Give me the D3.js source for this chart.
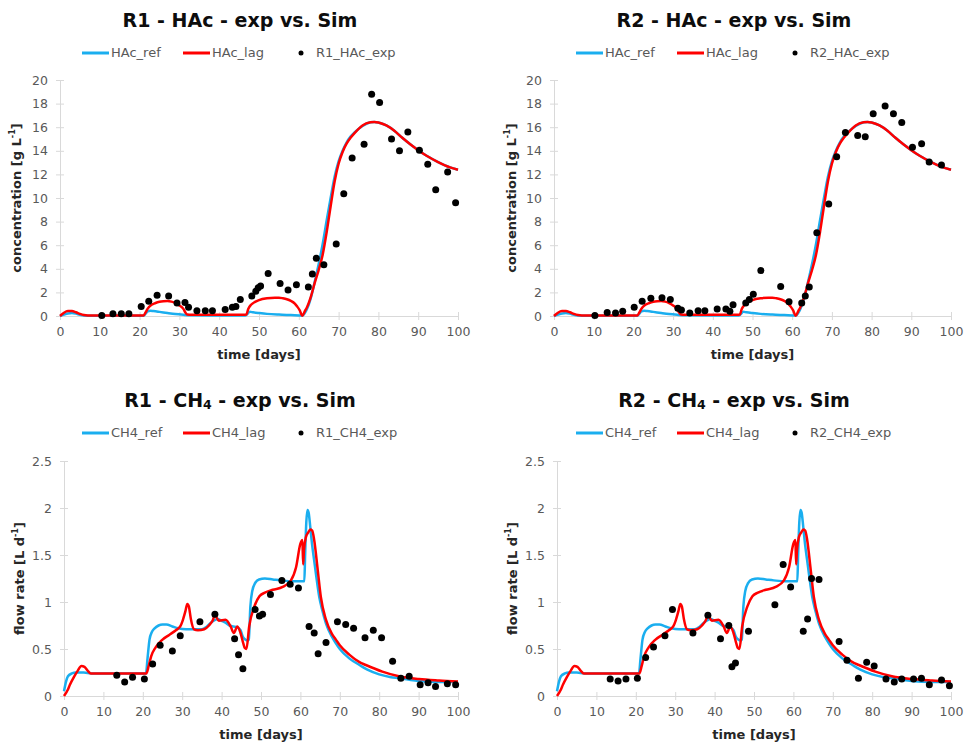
<!DOCTYPE html>
<html>
<head>
<meta charset="utf-8">
<script src="https://cdn.jsdelivr.net/npm/d3@7"></script>
<style>
  body { margin: 0; background: #ffffff; }
  svg { display: block; }
</style>
</head>
<body>
<svg id="chart" width="965" height="742"></svg>
<script>
// ---- simulated acetic acid (HAc) concentration, g/L  [day, value]
const hacRef = [[0,0],[1,0.12],[2,0.22],[3,0.25],[4,0.2],[5,0.1],[6,0.04],[8,0.02],[21,0.02],[21.5,0.2],[22,0.38],[22.7,0.45],[23.5,0.42],[25,0.35],[27,0.25],[29,0.16],[31,0.1],[33,0.06],[40,0.04],[46.5,0.04],[47,0.15],[47.7,0.35],[48.5,0.31],[50,0.25],[52,0.18],[55,0.12],[58,0.08],[60.9,0.04],[61.5,0.25],[62,0.55],[63,1.5],[64,2.9],[65,4.4],[66,6.1],[67,8.1],[68,10.0],[69,11.8],[70,13.1],[71,14.0],[72,14.7],[73,15.2],[74,15.55],[76,16.1],[78,16.42],[79,16.45],[80,16.4],[82,16.15],[84,15.7],[86,15.1],[88,14.55],[90,14.05],[92,13.6],[95,13.05],[98,12.6],[100,12.4]];
const hacLag = [[0,0],[1,0.28],[2,0.42],[3,0.42],[4,0.32],[5,0.18],[6,0.08],[7,0.05],[8,0.05],[21,0.05],[21.5,0.3],[22,0.6],[23,0.95],[24,1.1],[25,1.2],[26,1.25],[27,1.27],[28,1.22],[29,1.1],[30,0.9],[31,0.6],[31.5,0.3],[32,0.12],[33,0.1],[40,0.1],[46,0.1],[46.8,0.12],[47.3,0.6],[48,0.95],[49,1.2],[50,1.35],[52,1.5],[54,1.55],[55,1.55],[56,1.5],[57,1.42],[58,1.28],[59,1.05],[59.6,0.8],[60.2,0.5],[60.9,0.02],[61.5,0.4],[62,0.7],[63,1.6],[64,2.8],[65,3.9],[66,5.2],[67,7.1],[68,9.3],[69,11.4],[70,12.9],[71,13.9],[72,14.6],[73,15.1],[74,15.5],[76,16.15],[78,16.42],[79,16.45],[80,16.4],[82,16.15],[84,15.7],[86,15.1],[88,14.55],[90,14.05],[92,13.6],[95,13.05],[98,12.6],[100,12.4]];

// ---- measured HAc, reactors R1 and R2
const r1HacExp = [[10.5,0.05],[13.3,0.2],[15.4,0.2],[17.3,0.2],[20.4,0.8],[22.3,1.25],[24.4,1.75],[27.3,1.7],[29.4,1.1],[31.4,1.15],[32.3,0.75],[34.4,0.45],[36.5,0.45],[38.3,0.45],[41.5,0.55],[43.3,0.75],[44.2,0.8],[45.3,1.4],[48.2,1.7],[49.2,2.1],[49.8,2.4],[50.4,2.55],[52.3,3.6],[55.3,2.75],[57.3,2.2],[59.4,2.65],[62.4,2.45],[63.4,3.55],[64.4,4.9],[66.3,4.35],[69.4,6.1],[71.3,10.35],[73.4,13.4],[76.4,14.55],[78.3,18.8],[80.3,18.1],[83.3,15.0],[85.3,14.0],[87.4,15.6],[90.3,14.05],[92.4,12.85],[94.4,10.7],[97.4,12.2],[99.4,9.6]];
const r2HacExp = [[10.3,0.05],[13.4,0.3],[15.5,0.25],[17.3,0.4],[20.2,0.75],[22.2,1.25],[24.4,1.5],[27.2,1.55],[29.3,1.4],[31.2,0.65],[32.1,0.5],[34.2,0.25],[36.3,0.45],[38.0,0.45],[41.1,0.6],[43.3,0.6],[44.3,0.4],[45.1,0.95],[48.3,1.1],[49.2,1.4],[50.2,1.85],[52.1,3.85],[57.1,2.5],[59.2,1.2],[62.4,1.1],[63.3,1.7],[64.3,2.45],[66.2,7.05],[69.2,9.5],[71.2,13.5],[73.4,15.55],[76.5,15.3],[78.4,15.2],[80.4,17.15],[83.4,17.8],[85.5,17.15],[87.6,16.4],[90.3,14.3],[92.6,14.6],[94.5,13.05],[97.6,12.8]];

// ---- simulated methane flow rate, L/d
const ch4Ref = [[0,0.05],[0.5,0.15],[1,0.21],[2,0.24],[3,0.25],[5,0.25],[7,0.24],[10,0.24],[15,0.24],[20.8,0.24],[21.2,0.4],[21.7,0.6],[22.3,0.68],[23,0.72],[24,0.75],[25,0.76],[26,0.76],[27.5,0.74],[29,0.72],[31,0.71],[33,0.71],[35,0.71],[36,0.73],[37,0.77],[38,0.8],[39,0.82],[40,0.8],[41,0.78],[42,0.75],[43,0.74],[44,0.73],[44.8,0.7],[45.4,0.63],[46,0.6],[46.6,0.59],[46.9,0.6],[47.3,0.95],[47.8,1.12],[48.5,1.2],[49.5,1.24],[51,1.25],[53,1.24],[55,1.23],[58,1.22],[60,1.22],[61,1.22],[61.2,1.5],[61.5,1.85],[61.8,1.98],[62.1,1.95],[62.5,1.8],[63,1.6],[63.5,1.44],[64,1.28],[64.8,1.05],[65.5,0.92],[66.5,0.77],[68,0.63],[69,0.56],[70,0.5],[72.4,0.4],[75,0.33],[77,0.28],[80,0.23],[83,0.2],[85,0.19],[88,0.17],[90,0.16],[95,0.15],[100,0.15]];
const ch4Lag = [[0,0],[1,0.07],[1.5,0.12],[2.5,0.2],[3.5,0.27],[4.4,0.32],[5.2,0.31],[6,0.27],[6.8,0.24],[7.5,0.24],[10,0.24],[15,0.24],[20.9,0.24],[21.5,0.32],[22.1,0.42],[23.3,0.52],[25,0.6],[26.7,0.65],[28.4,0.7],[29.5,0.74],[30.1,0.8],[30.8,0.9],[31.3,0.98],[31.7,0.95],[32.2,0.82],[33,0.71],[34,0.7],[35.6,0.71],[36.8,0.75],[37.7,0.8],[38.3,0.86],[39.3,0.8],[41,0.81],[42.3,0.74],[43.1,0.67],[44,0.74],[44.8,0.67],[45.5,0.56],[45.9,0.51],[46.3,0.5],[47,0.74],[48.3,0.95],[49.6,1.06],[51,1.1],[53,1.13],[55.5,1.16],[57.6,1.23],[58.9,1.37],[60,1.62],[60.5,1.66],[60.7,1.4],[60.9,1.55],[61.4,1.69],[62,1.74],[62.5,1.77],[63,1.76],[63.5,1.66],[64.4,1.34],[65.2,1.05],[66.5,0.81],[68,0.66],[69,0.6],[70,0.54],[72.4,0.44],[75,0.36],[76.6,0.33],[80.8,0.26],[85,0.21],[90.1,0.18],[95.2,0.165],[100,0.155]];

// ---- measured methane flow, reactors R1 and R2
const r1Ch4Exp = [[13.4,0.22],[15.4,0.15],[17.4,0.2],[20.4,0.18],[22.5,0.34],[24.4,0.54],[27.5,0.48],[29.5,0.64],[34.5,0.79],[38.3,0.87],[43.3,0.61],[44.3,0.44],[45.4,0.29],[48.5,0.92],[49.6,0.85],[50.4,0.87],[52.4,1.08],[55.3,1.23],[57.4,1.19],[59.5,1.15],[62.2,0.74],[63.5,0.67],[64.5,0.45],[66.5,0.57],[69.4,0.79],[71.5,0.76],[73.5,0.72],[76.4,0.62],[78.5,0.7],[80.6,0.62],[83.4,0.37],[85.5,0.19],[87.6,0.21],[90.4,0.12],[92.4,0.14],[94.3,0.1],[97.3,0.13],[99.4,0.12]];
const r2Ch4Exp = [[13.5,0.18],[15.5,0.16],[17.5,0.18],[20.4,0.19],[22.5,0.41],[24.5,0.52],[27.4,0.64],[29.3,0.92],[34.5,0.67],[38.3,0.86],[41.5,0.61],[43.6,0.75],[44.4,0.31],[45.3,0.35],[48.6,0.69],[55.3,0.97],[57.4,1.4],[59.3,1.16],[62.5,0.69],[63.6,0.82],[64.6,1.25],[66.5,1.24],[71.6,0.58],[73.6,0.38],[76.5,0.19],[78.6,0.36],[80.5,0.32],[83.5,0.18],[85.6,0.15],[87.5,0.18],[90.5,0.18],[92.5,0.19],[94.5,0.12],[97.6,0.17],[99.6,0.11]];

// ---- axis ticks
const timeTicks = [0, 10, 20, 30, 40, 50, 60, 70, 80, 90, 100];
const concTicks = [0, 2, 4, 6, 8, 10, 12, 14, 16, 18, 20];
const flowTicks = [0, 0.5, 1, 1.5, 2, 2.5];

const FONT = "'DejaVu Sans', Verdana, sans-serif";
const BLUE = "#1aaeef";
const RED = "#ff0000";
const GREY_TEXT = "#595959";
const AXIS = "#d9d9d9";

const svg = d3.select("#chart");

function drawPanel(p) {
  const x = d3.scaleLinear().domain([0, 100]).range([p.x0, p.x1]);
  const y = d3.scaleLinear().domain([0, p.yMax]).range([p.y0, p.y1]);
  const g = svg.append("g");

  // x axis
  const gx = g.append("g")
    .attr("transform", `translate(0,${p.y0})`)
    .call(d3.axisBottom(x).tickValues(timeTicks).tickSizeOuter(0).tickSize(4).tickPadding(7)
      .tickFormat(d => String(d)));
  gx.select(".domain").attr("stroke", AXIS);
  gx.selectAll(".tick line").attr("stroke", AXIS).attr("y1", -4).attr("y2", 4);
  gx.selectAll(".tick text").attr("fill", GREY_TEXT).attr("font-family", FONT).attr("font-size", 12.5);

  // y axis
  const gy = g.append("g")
    .attr("transform", `translate(${p.x0},0)`)
    .call(d3.axisLeft(y).tickValues(p.yTicks).tickSizeOuter(0).tickSize(4).tickPadding(8)
      .tickFormat(d => String(d)));
  gy.select(".domain").attr("stroke", AXIS);
  gy.selectAll(".tick line").attr("stroke", AXIS).attr("x1", -4).attr("x2", 4);
  gy.selectAll(".tick text").attr("fill", GREY_TEXT).attr("font-family", FONT).attr("font-size", 12.5);

  // axis titles
  g.append("text")
    .attr("x", (p.x0 + p.x1) / 2).attr("y", p.y0 + 43)
    .attr("text-anchor", "middle").attr("font-family", FONT).attr("font-weight", "bold")
    .attr("font-size", 13).attr("fill", "#262626")
    .text("time [days]");

  const yl = g.append("text")
    .attr("transform", `translate(${p.yLabelX},${(p.y0 + p.y1) / 2}) rotate(-90)`)
    .attr("text-anchor", "middle").attr("dominant-baseline", "middle")
    .attr("font-family", FONT).attr("font-weight", "bold").attr("font-size", 13).attr("fill", "#262626");
  yl.append("tspan").text(p.yLabel);
  yl.append("tspan").attr("dy", -5).attr("font-size", 8).text("-1");
  yl.append("tspan").attr("dy", 5).text("]");

  // simulated curves
  const line = d3.line().x(d => x(d[0])).y(d => y(d[1])).curve(d3.curveMonotoneX);
  g.append("path").datum(p.ref).attr("d", line)
    .attr("fill", "none").attr("stroke", BLUE).attr("stroke-width", 2.5).attr("stroke-linejoin", "round");
  g.append("path").datum(p.lag).attr("d", line)
    .attr("fill", "none").attr("stroke", RED).attr("stroke-width", 2.5).attr("stroke-linejoin", "round");

  // measurements
  g.append("g").selectAll("circle").data(p.exp).join("circle")
    .attr("cx", d => x(d[0])).attr("cy", d => y(d[1])).attr("r", 3.5).attr("fill", "#000");

  // title
  const t = g.append("text")
    .attr("x", p.ox + 240).attr("y", p.titleY)
    .attr("text-anchor", "middle").attr("dominant-baseline", "middle")
    .attr("font-family", FONT).attr("font-weight", "bold").attr("font-size", 19).attr("fill", "#0d0d0d");
  p.title.forEach(part => {
    const s = t.append("tspan").text(part.text);
    if (part.sub) s.attr("dy", 4).attr("font-size", 12.5);
    if (part.back) s.attr("dy", -4);
  });

  // legend
  const ly = p.titleY + 32;
  const lg = g.append("g").attr("font-family", FONT).attr("font-size", 13).attr("fill", GREY_TEXT);
  lg.append("line").attr("x1", p.ox + 82).attr("x2", p.ox + 109).attr("y1", ly).attr("y2", ly)
    .attr("stroke", BLUE).attr("stroke-width", 3);
  lg.append("text").attr("x", p.ox + 111).attr("y", ly).attr("dominant-baseline", "middle").text(p.names[0]);
  lg.append("line").attr("x1", p.ox + 183).attr("x2", p.ox + 210).attr("y1", ly).attr("y2", ly)
    .attr("stroke", RED).attr("stroke-width", 3);
  lg.append("text").attr("x", p.ox + 212).attr("y", ly).attr("dominant-baseline", "middle").text(p.names[1]);
  lg.append("circle").attr("cx", p.ox + 301).attr("cy", ly).attr("r", 2.5).attr("fill", "#000");
  lg.append("text").attr("x", p.ox + 316).attr("y", ly).attr("dominant-baseline", "middle").text(p.names[2]);
}

const ch4Title = r => [{ text: r + " - CH" }, { text: "4", sub: true }, { text: " - exp vs. Sim", back: true }];

drawPanel({ ox: 0, x0: 60, x1: 458, y0: 316, y1: 80, yMax: 20, yTicks: concTicks, yLabelX: 17,
  yLabel: "concentration [g L", ref: hacRef, lag: hacLag, exp: r1HacExp, titleY: 21,
  title: [{ text: "R1 - HAc - exp vs. Sim" }], names: ["HAc_ref", "HAc_lag", "R1_HAc_exp"] });
drawPanel({ ox: 494, x0: 554, x1: 951, y0: 316, y1: 80, yMax: 20, yTicks: concTicks, yLabelX: 512,
  yLabel: "concentration [g L", ref: hacRef, lag: hacLag, exp: r2HacExp, titleY: 21,
  title: [{ text: "R2 - HAc - exp vs. Sim" }], names: ["HAc_ref", "HAc_lag", "R2_HAc_exp"] });
drawPanel({ ox: 0, x0: 64, x1: 458, y0: 696, y1: 461, yMax: 2.5, yTicks: flowTicks, yLabelX: 20,
  yLabel: "flow rate [L d", ref: ch4Ref, lag: ch4Lag, exp: r1Ch4Exp, titleY: 401,
  title: ch4Title("R1"), names: ["CH4_ref", "CH4_lag", "R1_CH4_exp"] });
drawPanel({ ox: 494, x0: 557, x1: 951, y0: 696, y1: 461, yMax: 2.5, yTicks: flowTicks, yLabelX: 513,
  yLabel: "flow rate [L d", ref: ch4Ref, lag: ch4Lag, exp: r2Ch4Exp, titleY: 401,
  title: ch4Title("R2"), names: ["CH4_ref", "CH4_lag", "R2_CH4_exp"] });
</script>
</body>
</html>
